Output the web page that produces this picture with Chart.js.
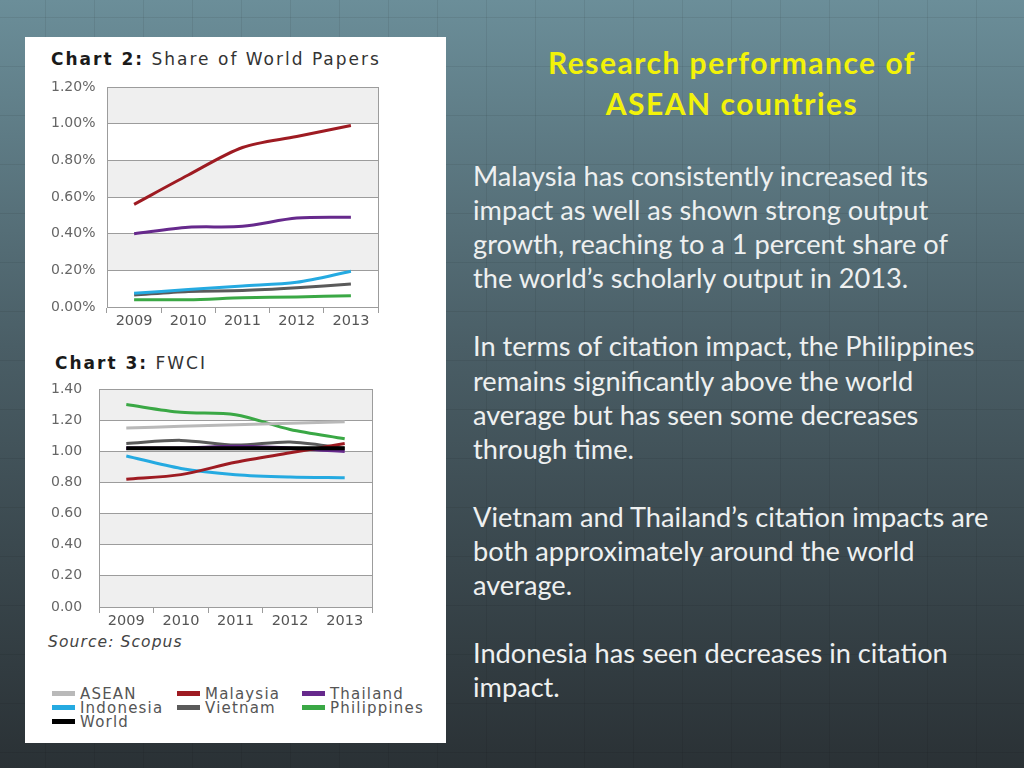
<!DOCTYPE html>
<html>
<head>
<meta charset="utf-8">
<script src="https://cdn.jsdelivr.net/npm/chart.js@4"></script>
<style>
  html, body { margin: 0; padding: 0; }
  body {
    width: 1024px; height: 768px; overflow: hidden; position: relative;
    background-color: #45575e;
    background-image:
      linear-gradient(rgba(0,0,0,0.07) 1px, transparent 1px),
      linear-gradient(90deg, rgba(0,0,0,0.07) 1px, transparent 1px),
      linear-gradient(#6b8e99, #4a5e66 45%, #2a3135);
    background-size: 49px 49px, 49px 49px, 100% 100%;
    background-position: 0 17px, 45px 0, 0 0;
    font-family: Lato, "Open Sans", sans-serif;
  }
  #panel { position: absolute; left: 25px; top: 37px; width: 421px; height: 706px; background: #fff; }
  .ctitle { position: absolute; font-family: "DejaVu Sans", sans-serif; font-size: 17px; color: #333; letter-spacing: 2px; white-space: nowrap; }
  .ctitle b { color: #1a1a1a; }
  .chartbox { position: absolute; }
  #source { position: absolute; left: 23px; top: 596px; font-family: "DejaVu Sans", sans-serif; font-style: italic; font-size: 15.5px; letter-spacing: 1.1px; color: #444; }
  #legend { position: absolute; left: 27px; top: 650px; width: 390px; font-family: "DejaVu Sans", sans-serif; font-size: 15px; letter-spacing: 1.2px; color: #555; line-height: 14px; }
  #legend .item { display: inline-block; width: 125px; white-space: nowrap; }
  #legend .sw { display: inline-block; width: 23px; height: 5px; margin-right: 5px; vertical-align: 3px; }
  #heading { position: absolute; left: 480px; top: 42px; width: 504px; text-align: center; color: #f2f20a; font-weight: bold; font-size: 30px; letter-spacing: 1.5px; line-height: 41px; }
  #body { position: absolute; left: 473px; top: 159px; color: #eef0f0; font-size: 27.2px; line-height: 34.1px; white-space: nowrap; }
  #body p { margin: 0 0 34.1px 0; }
</style>
</head>
<body>
<div id="panel">
  <div class="ctitle" style="left:26px; top:12px;"><b>Chart 2:</b> Share of World Papers</div>
  <div class="chartbox" style="left:20px; top:41px; width:340px; height:252px;"><canvas id="shareChart"></canvas></div>
  <div class="ctitle" style="left:30px; top:316px;"><b>Chart 3:</b> FWCI</div>
  <div class="chartbox" style="left:20px; top:343px; width:335px; height:250px;"><canvas id="fwciChart"></canvas></div>
  <div id="source">Source: Scopus</div>
  <div id="legend"></div>
</div>
<div id="heading">Research performance of<br>ASEAN countries</div>
<div id="body">
  <p>Malaysia has consistently increased its<br>impact as well as shown strong output<br>growth, reaching to a 1 percent share of<br>the world’s scholarly output in 2013.</p>
  <p>In terms of citation impact, the Philippines<br>remains significantly above the world<br>average but has seen some decreases<br>through time.</p>
  <p>Vietnam and Thailand’s citation impacts are<br>both approximately around the world<br>average.</p>
  <p>Indonesia has seen decreases in citation<br>impact.</p>
</div>

<script>
// --- Datos ---
const years = ['2009', '2010', '2011', '2012', '2013'];

// Chart 2: share of world papers (%)
const shareMalaysia = [0.56, 0.72, 0.87, 0.93, 0.99];
const shareThailand = [0.40, 0.435, 0.44, 0.485, 0.49];
const shareIndonesia = [0.075, 0.095, 0.115, 0.135, 0.195];
const shareVietnam = [0.065, 0.085, 0.09, 0.105, 0.125];
const sharePhilippines = [0.04, 0.04, 0.05, 0.055, 0.062];
const shareTicks = [0, 0.2, 0.4, 0.6, 0.8, 1.0, 1.2];

// Chart 3: FWCI
const fwciAsean = [1.15, 1.16, 1.17, 1.18, 1.19];
const fwciMalaysia = [0.82, 0.85, 0.93, 0.99, 1.05];
const fwciThailand = [1.02, 1.02, 1.03, 1.02, 1.00];
const fwciIndonesia = [0.97, 0.89, 0.85, 0.835, 0.83];
const fwciVietnam = [1.05, 1.07, 1.04, 1.06, 1.02];
const fwciPhilippines = [1.30, 1.25, 1.235, 1.14, 1.08];
const fwciWorld = [1.02, 1.02, 1.02, 1.02, 1.02];
const fwciTicks = [0, 0.2, 0.4, 0.6, 0.8, 1.0, 1.2, 1.4];

const legendNames = ['ASEAN', 'Malaysia', 'Thailand', 'Indonesia', 'Vietnam', 'Philippines', 'World'];
const colors = {
    ASEAN: '#b9b9b9',
    Malaysia: '#9e1b22',
    Thailand: '#66298c',
    Indonesia: '#25aae1',
    Vietnam: '#5a5a5a',
    Philippines: '#3aa845',
    World: '#000000'
};

// --- Bandas grises alternas y marco del área ---
const bandsPlugin = {
    id: 'bands',
    beforeDraw(chart) {
        const { ctx, chartArea } = chart;
        const y = chart.scales.y;
        const ticks = y.ticks.map(t => y.getPixelForValue(t.value)).sort((a, b) => a - b);
        ctx.save();
        for (let i = 0; i < ticks.length - 1; i++) {
            if (i % 2 === 0) {
                ctx.fillStyle = '#efefef';
                ctx.fillRect(chartArea.left, ticks[i], chartArea.right - chartArea.left, ticks[i + 1] - ticks[i]);
            }
        }
        ctx.restore();
    },
    beforeDatasetsDraw(chart) {
        const { ctx, chartArea } = chart;
        ctx.save();
        ctx.strokeStyle = '#9c9c9c';
        ctx.lineWidth = 1;
        ctx.beginPath();
        ctx.moveTo(chartArea.right + 0.5, chartArea.top);
        ctx.lineTo(chartArea.right + 0.5, chartArea.bottom + 6);
        ctx.stroke();
        ctx.restore();
    }
};

function line(label, data, width) {
    return {
        label,
        data,
        borderColor: colors[label],
        backgroundColor: colors[label],
        borderWidth: width || 3,
        pointRadius: 0,
        tension: 0.3,
        fill: false
    };
}

function makeOptions(tickValues, fmt, yWidth, pad) {
    return {
        responsive: true,
        maintainAspectRatio: false,
        animation: false,
        layout: { padding: pad, autoPadding: false },
        plugins: { legend: { display: false }, tooltip: { enabled: false } },
        scales: {
            x: {
                offset: true,
                grid: { offset: true, drawOnChartArea: false, drawTicks: true, tickLength: 6, color: '#9c9c9c' },
                border: { color: '#9c9c9c' },
                ticks: { color: '#555', font: { family: 'DejaVu Sans', size: 14.5 }, padding: 0, maxRotation: 0 },
                afterFit: s => { s.height = 19; s.paddingLeft = 0; s.paddingRight = 0; }
            },
            y: {
                min: tickValues[0],
                max: tickValues[tickValues.length - 1],
                afterBuildTicks: s => { s.ticks = tickValues.map(v => ({ value: v })); },
                grid: { color: '#9c9c9c', drawTicks: false },
                border: { color: '#9c9c9c' },
                ticks: {
                    color: '#666',
                    font: { family: 'DejaVu Sans', size: 14 },
                    crossAlign: 'far',
                    padding: 8,
                    callback: v => fmt(v)
                },
                afterFit: s => { s.width = yWidth; s.paddingTop = 0; s.paddingBottom = 0; }
            }
        }
    };
}

new Chart(document.getElementById('shareChart'), {
    type: 'line',
    data: {
        labels: years,
        datasets: [
            line('Malaysia', shareMalaysia),
            line('Thailand', shareThailand),
            line('Indonesia', shareIndonesia),
            line('Vietnam', shareVietnam),
            line('Philippines', sharePhilippines)
        ]
    },
    options: makeOptions(shareTicks, v => v.toFixed(2) + '%', 56, { left: 6, top: 9, right: 7, bottom: 4 }),
    plugins: [bandsPlugin]
});

const fwciSets = [
    Object.assign(line('World', fwciWorld, 4), { order: 0 }),
    Object.assign(line('Malaysia', fwciMalaysia), { order: 1 }),
    Object.assign(line('Indonesia', fwciIndonesia), { order: 2 }),
    Object.assign(line('Thailand', fwciThailand, 3.5), { order: 3 }),
    Object.assign(line('Vietnam', fwciVietnam), { order: 4 }),
    Object.assign(line('ASEAN', fwciAsean), { order: 5 }),
    Object.assign(line('Philippines', fwciPhilippines), { order: 6 })
];

new Chart(document.getElementById('fwciChart'), {
    type: 'line',
    data: { labels: years, datasets: fwciSets },
    options: makeOptions(fwciTicks, v => v.toFixed(2), 48, { left: 6, top: 9, right: 8, bottom: 4 }),
    plugins: [bandsPlugin]
});

// --- Leyenda ---
const legendDiv = document.getElementById('legend');
legendNames.forEach(name => {
    const item = document.createElement('span');
    item.className = 'item';
    item.innerHTML = `<span class="sw" style="background:${colors[name]}"></span>${name}`;
    legendDiv.appendChild(item);
});
</script>
</body>
</html>
